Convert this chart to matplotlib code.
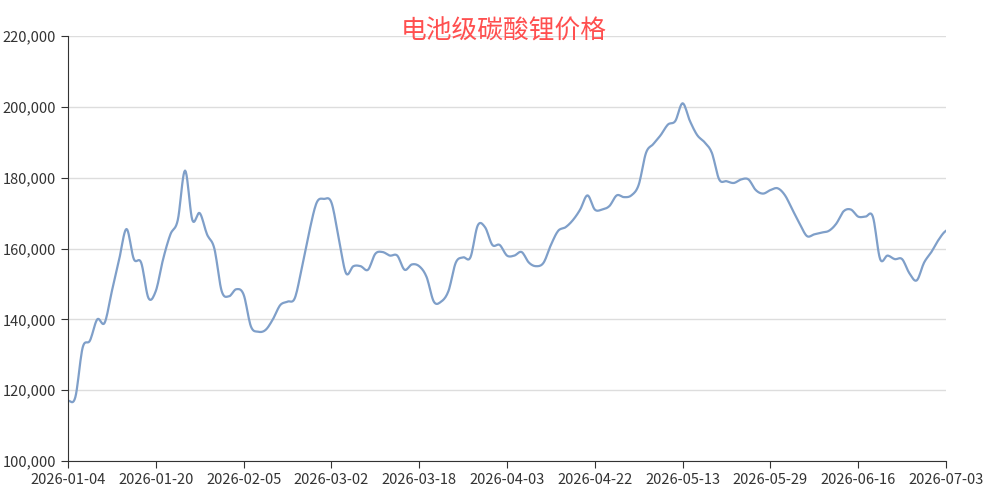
import matplotlib
matplotlib.use("Agg")
import matplotlib.pyplot as plt
import numpy as np

plt.rcParams['font.family'] = ['Noto Sans CJK SC', 'DejaVu Sans']

tick_labels = ["2026-01-04","2026-01-20","2026-02-05","2026-03-02","2026-03-18","2026-04-03",
               "2026-04-22","2026-05-13","2026-05-29","2026-06-16","2026-07-03"]
prices = [117000,
 118000,132000,134000,140000,139000,148000,157000,165500,157000,156000,146000,148000,
 157000,164000,168000,182000,168000,170000,164000,160000,148000,146500,148500,147000,
 138000,136500,137000,140000,144000,145000,146000,155000,165000,173000,174000,173000,
 163000,153000,155000,155000,154000,158500,159000,158000,158000,154000,155500,155000,
 152000,145000,145000,148000,156000,157500,157500,166500,166000,161000,161000,158000,
 158000,159000,156000,155000,156000,161000,165000,166000,168000,171000,175000,171000,
 171000,172000,175000,174500,175000,178000,187000,189500,192000,195000,196000,201000,
 196000,192000,190000,187000,179500,179000,178500,179500,179500,176500,175500,176500,
 177000,175000,171000,167000,163500,164000,164500,165000,167000,170500,171000,169000,
 169000,169000,157000,158000,157000,157000,153000,151000,156000,159000,162500,165000]

y = np.array(prices, float)
n = len(y)
p = np.concatenate([[y[0]], y, [y[-1]]])
xs, ys = [], []
for i in range(n - 1):
    p0, p1, p2, p3 = p[i], p[i+1], p[i+2], p[i+3]
    t = np.linspace(0, 1, 10, endpoint=False)
    yy = 0.5*((2*p1) + (-p0+p2)*t + (2*p0-5*p1+4*p2-p3)*t**2 + (-p0+3*p1-3*p2+p3)*t**3)
    xs.extend(i + t); ys.extend(yy)
xs.append(n-1); ys.append(y[-1])

fig = plt.figure(figsize=(9.93, 4.98), dpi=100)
ax = fig.add_axes([68/993, 1-461/498, (946-68)/993, (461-36)/498])
ax.plot(xs, ys, color='#7f9fc9', lw=1.6)
ax.set_xlim(0, n-1)
ax.set_ylim(100000, 220000)
ax.set_yticks(np.arange(100000, 220001, 20000))
ax.set_yticklabels([f"{v:,}" for v in range(100000, 220001, 20000)])
ax.set_xticks(np.arange(0, n, 12))
ax.set_xticklabels(tick_labels)
ax.grid(axis='y', color='#dddddd', lw=1)
ax.set_axisbelow(True)
for s in ['top', 'right']:
    ax.spines[s].set_visible(False)
ax.spines['left'].set_color('#333333')
ax.spines['bottom'].set_color('#333333')
ax.tick_params(labelsize=10.5, colors='#333333', length=5)
fig.text(504/993, 1-32/498, "电池级碳酸锂价格", color='#ff4f4f', fontsize=18.5, ha='center', va='center')
fig.savefig("out.png")
